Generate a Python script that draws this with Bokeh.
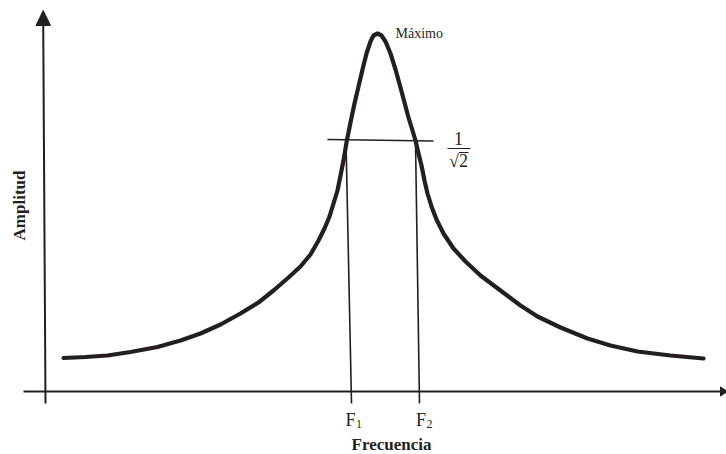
from bokeh.plotting import figure
from bokeh.models import Range1d
from bokeh.core.properties import value
from bokeh.embed import file_html
from bokeh.resources import INLINE
import math

# Resonance curve (x = frequency position, y = amplitude position, page pixels)
freq = [63, 85, 107, 130, 157, 180, 200, 220, 240, 258, 273, 288, 300, 310, 318, 324, 329, 333,
        337, 340, 343, 346, 350, 354, 358, 362, 366, 370, 373, 377, 381, 385, 390, 395, 400, 404,
        408, 412, 415, 418, 421, 424, 427, 431, 436, 443, 453, 465, 480, 500, 520, 537, 560, 587,
        610, 637, 670, 703]
amplitude = [357.5, 356.5, 355, 351.5, 346.5, 340, 333, 324, 313, 302, 290, 277, 266, 254, 240, 228, 216, 203,
             190, 175, 160, 142, 122, 103, 86, 69, 53, 41, 35, 33, 35, 41, 53, 69, 87, 102,
             117, 130, 140, 153, 165, 180, 193, 206, 219, 233, 248, 261, 275, 290, 305, 316, 327, 338,
             345, 351, 355, 358]

# Half-power level and cut-off frequencies
half_power_x = [327, 433]
half_power_y = [139, 140.5]
f1_x = [345.5, 351]
f2_x = [415, 419]
cut_y = [140, 403]

# Axes
x_axis_x = [23, 720]
x_axis_y = [391, 391]
y_axis_x = [42.7, 45]
y_axis_y = [22, 403]

INK = "#231f20"
SERIF = value("Liberation Serif")

p = figure(width=726, height=454, output_backend="svg", toolbar_location=None,
           x_range=Range1d(0, 726), y_range=Range1d(454, 0), min_border=0)
p.axis.visible = False
p.grid.visible = False
p.outline_line_color = None
p.min_border_left = p.min_border_right = p.min_border_top = p.min_border_bottom = 0

# axes lines
p.line(x_axis_x, x_axis_y, line_color=INK, line_width=2)
p.line(y_axis_x, y_axis_y, line_color=INK, line_width=2)
# arrowheads
p.patch([720, 720, 727], [386.5, 395.5, 391], fill_color=INK, line_color=INK)
p.patch([35.5, 50, 42.7], [25, 25, 10], fill_color=INK, line_color=INK)

# curve
p.line(freq, amplitude, line_color=INK, line_width=4.2, line_join="round", line_cap="round")

# half-power line and cut-off lines
p.line(half_power_x, half_power_y, line_color=INK, line_width=1.6)
p.line(f1_x, cut_y, line_color=INK, line_width=1.6)
p.line(f2_x, cut_y, line_color=INK, line_width=1.6)

# Labels
p.text(x=[19], y=[205], text=["Amplitud"], angle=math.pi / 2, text_font=SERIF,
       text_font_style="bold", text_font_size="17px", text_align="center",
       text_baseline="middle", text_color=INK)
p.text(x=[391], y=[444], text=["Frecuencia"], text_font=SERIF, text_font_style="bold",
       text_font_size="17px", text_align="center", text_baseline="middle", text_color=INK)
p.text(x=[395], y=[33], text=["Máximo"], text_font=SERIF, text_font_size="14px",
       text_align="left", text_baseline="middle", text_color=INK)

# F1, F2 with subscripts
p.text(x=[345, 415.5], y=[419, 419], text=["F", "F"], text_font=SERIF, text_font_size="18px",
       text_align="left", text_baseline="middle", text_color=INK)
p.text(x=[355.5, 426], y=[423, 423], text=["1", "2"], text_font=SERIF, text_font_size="12px",
       text_align="left", text_baseline="middle", text_color=INK)

# 1/sqrt(2)
p.text(x=[458], y=[138], text=["1"], text_font=SERIF, text_font_size="18px",
       text_align="center", text_baseline="middle", text_color=INK)
p.line([447, 470], [148, 148], line_color=INK, line_width=1.2)
p.text(x=[458], y=[160], text=["√2"], text_font=SERIF, text_font_size="18px",
       text_align="center", text_baseline="middle", text_color=INK)
p.line([458.5, 468], [152, 152], line_color=INK, line_width=1)

open("out.html", "w").write(file_html(p, INLINE))
